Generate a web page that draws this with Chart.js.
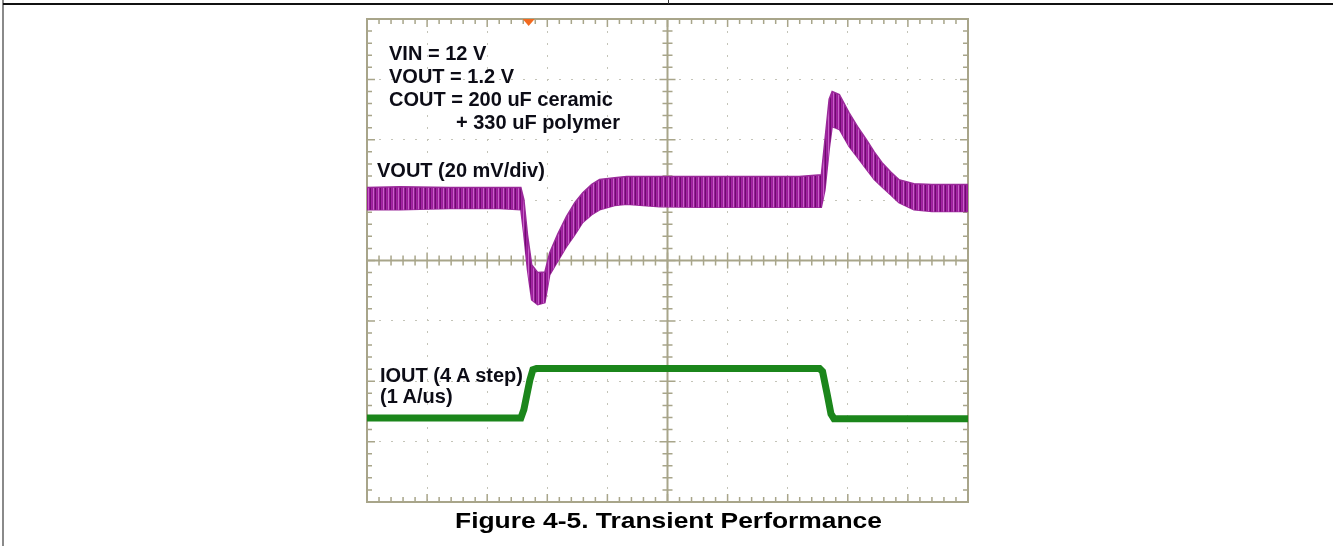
<!DOCTYPE html>
<html>
<head>
<meta charset="utf-8">
<script src="https://cdn.jsdelivr.net/npm/chart.js@4"></script>
<style>
body { margin: 0; background: #fff; font-family: Arial, "Liberation Sans", sans-serif; }
#page { position: relative; width: 1333px; height: 546px; overflow: hidden; }
#plot { position: absolute; left: 0; top: 0; width: 1333px; height: 546px; }
.lbl { position: absolute; font-weight: bold; font-size: 20px; line-height: 1; color: #0c0c16; white-space: pre; }
#caption { position: absolute; left: 2px; top: 510px; width: 1333px; text-align: center; font-weight: bold; font-size: 22px; line-height: 1; color: #000; transform: scaleX(1.2); }
.rule { position: absolute; }
</style>
</head>
<body>
<div id="page">
  <div class="rule" style="left:2px;top:0;width:2px;height:546px;background:#8a8a8a"></div>
  <div class="rule" style="left:3px;top:3px;width:1330px;height:2px;background:#111"></div>
  <div class="rule" style="left:668px;top:0;width:1px;height:4px;background:#333"></div>
  <div id="plot"><canvas id="scope"></canvas></div>
  <div class="lbl" style="left:389px;top:43px">VIN = 12 V</div>
  <div class="lbl" style="left:389px;top:66px">VOUT = 1.2 V</div>
  <div class="lbl" style="left:389px;top:89px">COUT = 200 uF ceramic</div>
  <div class="lbl" style="left:456px;top:112px">+ 330 uF polymer</div>
  <div class="lbl" style="left:377px;top:160px">VOUT (20 mV/div)</div>
  <div class="lbl" style="left:380px;top:365px">IOUT (4 A step)</div>
  <div class="lbl" style="left:380px;top:386px">(1 A/us)</div>
  <div id="caption">Figure 4-5. Transient Performance</div>
</div>
<script>
// screen is 10 x 8 divisions, everything below is in divisions
const vTime = [0, 0.55, 1.38, 2.21, 2.56, 2.61, 2.67, 2.74, 2.84, 2.96, 3.04, 3.17, 3.32, 3.46, 3.59, 3.74, 3.87, 4.12, 4.32, 4.87, 5.53, 6.36, 7.19, 7.56, 7.62, 7.69, 7.74, 7.86, 8.02, 8.16, 8.31, 8.44, 8.57, 8.72, 8.85, 9.10, 9.40, 10];
const vUpper = [5.21, 5.22, 5.21, 5.21, 5.21, 5.01, 4.43, 3.93, 3.80, 3.81, 4.13, 4.43, 4.73, 4.96, 5.12, 5.26, 5.34, 5.37, 5.39, 5.39, 5.39, 5.39, 5.39, 5.42, 6.00, 6.67, 6.80, 6.75, 6.45, 6.22, 6.00, 5.80, 5.62, 5.46, 5.34, 5.27, 5.26, 5.26];
const vLower = [4.84, 4.84, 4.86, 4.86, 4.84, 4.43, 3.85, 3.35, 3.27, 3.30, 3.76, 3.98, 4.23, 4.43, 4.63, 4.76, 4.84, 4.91, 4.93, 4.89, 4.88, 4.88, 4.88, 4.88, 5.17, 5.84, 6.22, 6.17, 5.89, 5.71, 5.51, 5.34, 5.22, 5.08, 4.96, 4.84, 4.81, 4.81];

const iTime = [0, 2.56, 2.61, 2.71, 2.76, 2.82, 7.53, 7.58, 7.66, 7.72, 7.77, 10];
const iLevel = [1.39, 1.39, 1.53, 2.02, 2.19, 2.21, 2.21, 2.16, 1.77, 1.46, 1.38, 1.38];

const triggerAt = 2.69;

const toPoints = (xs, ys) => xs.map((t, i) => ({x: t, y: ys[i]}));

// striped fill so the ripple band looks like the scope trace
const makeStripes = () => {
    const c = document.createElement('canvas');
    c.width = 5; c.height = 4;
    const g = c.getContext('2d');
    const cols = ['#6e0c6e', '#a223a2', '#9a1d9a', '#c861c8', '#951c95'];
    cols.forEach((col, i) => { g.fillStyle = col; g.fillRect(i, 0, 1, 4); });
    return g.createPattern(c, 'repeat');
}

const frameColor = '#a8a58a';

const graticule = {
    id: 'graticule',
    beforeDatasetsDraw(chart) {
        const {ctx, chartArea: a, scales: {x, y}} = chart;
        const cx = x.getPixelForValue(5);
        const cy = y.getPixelForValue(4);
        ctx.save();
        ctx.strokeStyle = frameColor;
        ctx.lineWidth = 2;
        ctx.strokeRect(a.left, a.top, a.right - a.left, a.bottom - a.top);
        ctx.beginPath();
        ctx.moveTo(a.left, cy); ctx.lineTo(a.right, cy);
        ctx.moveTo(cx, a.top); ctx.lineTo(cx, a.bottom);
        ctx.stroke();

        ctx.lineWidth = 1.5;
        ctx.beginPath();
        for (let i = 1; i < 50; i++) {
            const px = x.getPixelForValue(i / 5);
            const len = i % 5 == 0 ? 8 : 5;
            ctx.moveTo(px, a.top); ctx.lineTo(px, a.top + len);
            ctx.moveTo(px, a.bottom); ctx.lineTo(px, a.bottom - len);
            ctx.moveTo(px, cy - len); ctx.lineTo(px, cy + len);
        }
        for (let i = 1; i < 40; i++) {
            const py = y.getPixelForValue(i / 5);
            const len = i % 5 == 0 ? 8 : 5;
            ctx.moveTo(a.left, py); ctx.lineTo(a.left + len, py);
            ctx.moveTo(a.right, py); ctx.lineTo(a.right - len, py);
            ctx.moveTo(cx - len, py); ctx.lineTo(cx + len, py);
        }
        ctx.stroke();
        ctx.restore();
    },
    afterDraw(chart) {
        const {ctx, chartArea: a, scales: {x}} = chart;
        const px = x.getPixelForValue(triggerAt);
        ctx.save();
        ctx.fillStyle = '#f26a1f';
        ctx.beginPath();
        ctx.moveTo(px - 6, a.top);
        ctx.lineTo(px + 6, a.top);
        ctx.lineTo(px, a.top + 7);
        ctx.closePath();
        ctx.fill();
        ctx.restore();
    }
};

new Chart('scope', {
    type: 'line',
    data: {
        datasets: [{
            label: 'VOUT upper',
            data: toPoints(vTime, vUpper),
            borderColor: '#9a2a9a',
            borderWidth: 1.5,
            backgroundColor: makeStripes(),
            fill: '+1',
            pointRadius: 0
        }, {
            label: 'VOUT lower',
            data: toPoints(vTime, vLower),
            borderColor: '#9a2a9a',
            borderWidth: 1.5,
            fill: false,
            pointRadius: 0
        }, {
            label: 'IOUT',
            data: toPoints(iTime, iLevel),
            borderColor: '#1b861b',
            borderWidth: 7,
            fill: false,
            pointRadius: 0
        }]
    },
    options: {
        responsive: true,
        maintainAspectRatio: false,
        animation: false,
        layout: {padding: {left: 367, right: 365, top: 19, bottom: 44}},
        elements: {line: {tension: 0}},
        plugins: {legend: {display: false}, tooltip: {enabled: false}},
        scales: {
            x: {
                type: 'linear', min: 0, max: 10,
                ticks: {display: false, stepSize: 1},
                grid: {color: '#c4c4b8', lineWidth: 1, drawTicks: false},
                border: {display: false, dash: [2, 10]}
            },
            y: {
                type: 'linear', min: 0, max: 8,
                ticks: {display: false, stepSize: 1},
                grid: {color: '#c4c4b8', lineWidth: 1, drawTicks: false},
                border: {display: false, dash: [2, 10]}
            }
        }
    },
    plugins: [graticule]
});
</script>
</body>
</html>
